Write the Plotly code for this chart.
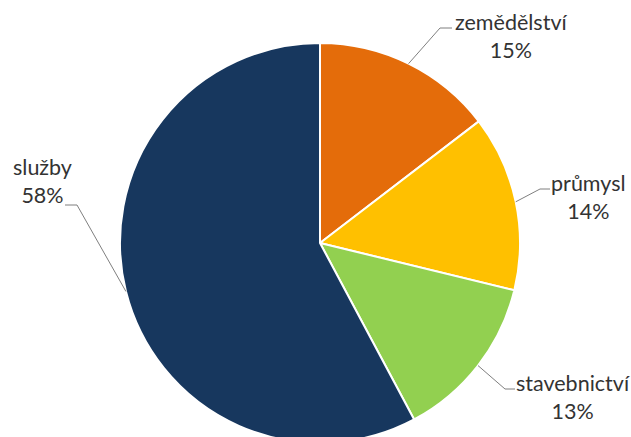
import math
import plotly.graph_objects as go

W, H = 631, 444

sectors = ["zemědělství", "průmysl", "stavebnictví", "služby"]
shares = [14.6, 14.2, 13.4, 57.8]
colors = ["#E46C0A", "#FFC000", "#92D050", "#17375E"]

# label anchor (px, from top-left) and elbow point of leader line
label_pos = [(511, 36), (588, 197), (573, 397), (42, 181)]
elbow_pos = [(440, 28), (540, 189), (505, 389), (77, 205)]
elbow_end = [(452, 28), (550, 189), (515, 389), (65, 205)]

CX, CY, R = 320, 243, 200


def px(x, y):
    return x / W, 1 - y / H


fig = go.Figure(go.Pie(
    labels=sectors, values=shares, sort=False, direction="clockwise", rotation=0,
    marker=dict(colors=colors, line=dict(color="#FFFFFF", width=2)),
    textinfo="none", hoverinfo="label+percent",
    domain=dict(x=[(CX - R) / W, (CX + R) / W], y=[1 - (CY + R) / H, 1 - (CY - R) / H]),
))

total = sum(shares)
cum = 0
for i, v in enumerate(shares):
    mid = (cum + v / 2) / total * 2 * math.pi
    cum += v
    ex, ey = CX + R * math.sin(mid), CY - R * math.cos(mid)
    x0, y0 = px(ex, ey)
    x1, y1 = px(*elbow_pos[i])
    x2, y2 = px(*elbow_end[i])
    fig.add_shape(type="path", xref="paper", yref="paper",
                  path=f"M {x0} {y0} L {x1} {y1} L {x2} {y2}",
                  line=dict(color="#7F7F7F", width=1))
    lx, ly = px(*label_pos[i])
    fig.add_annotation(x=lx, y=ly, xref="paper", yref="paper", showarrow=False,
                       text=f"{sectors[i]}<br>{round(v / total * 100)}%",
                       align="center", xanchor="center", yanchor="middle",
                       font=dict(size=21.5, color="#333333", family="Lato, sans-serif"))

fig.update_layout(
    width=W, height=H, showlegend=False,
    margin=dict(l=0, r=0, t=0, b=0),
    paper_bgcolor="#FFFFFF", plot_bgcolor="#FFFFFF",
)
# pie runs off the bottom edge like the original; drop page margin and clip
fig.write_html("out.html", config={"displayModeBar": False},
               post_script="document.body.style.margin='0';document.body.style.overflow='hidden';")
